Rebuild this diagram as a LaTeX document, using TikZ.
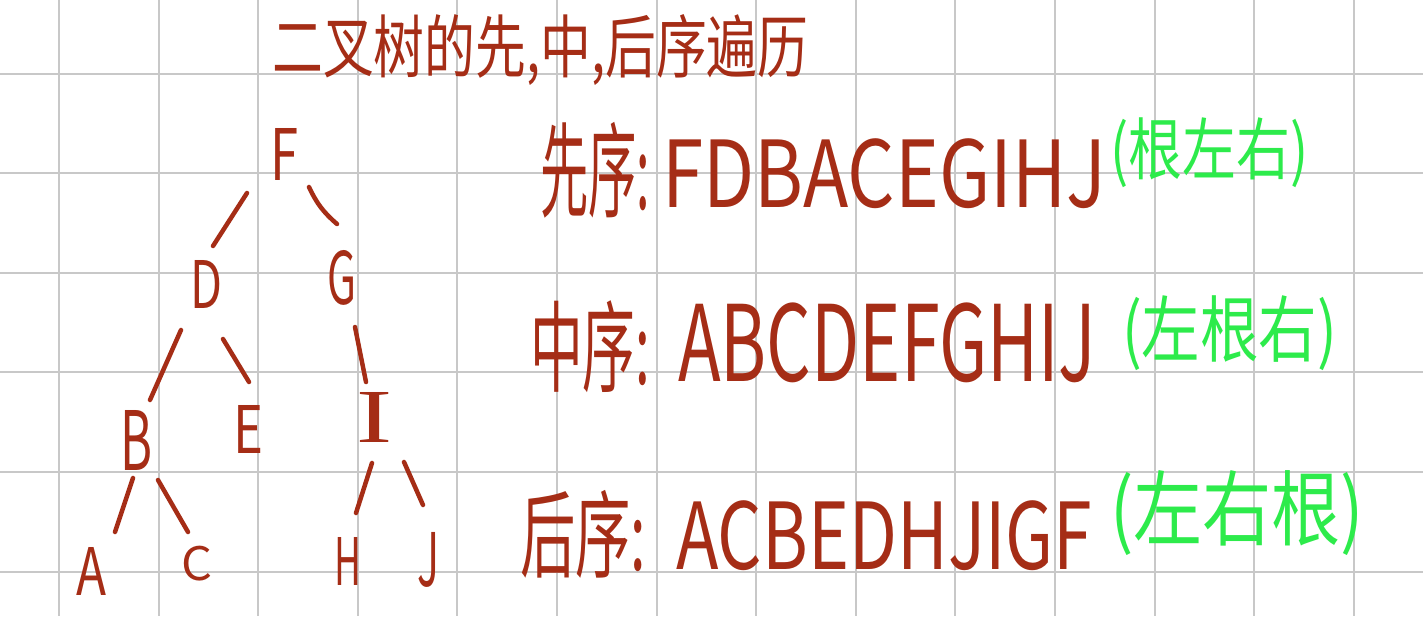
\documentclass[tikz,border=0pt]{standalone}
\usepackage{fontspec}
\usepackage{graphicx}
\usetikzlibrary{calc}
\newfontfamily\cjk{Noto Sans CJK SC}
\newfontfamily\serifletter{Liberation Serif}
\definecolor{ink}{RGB}{165,45,22}
\definecolor{inkgreen}{RGB}{45,235,75}
\definecolor{gridgray}{RGB}{200,200,200}
\newcommand{\fitbox}[3]{\resizebox*{#1pt}{#2pt}{\cjk #3}}
\tikzset{
  tl/.style={inner sep=0pt, text=ink},
  seg/.style={inner sep=0pt, anchor=north west},
  edgeline/.style={draw=ink, line width=4.5pt, line cap=round},
  gridline/.style={draw=gridgray, line width=2pt}
}
\begin{document}
\begin{tikzpicture}[x=1pt,y=-1pt]
\fill[white] (0,0) rectangle (1423,616);
\useasboundingbox (0,0) rectangle (1423,616);
% grid
\foreach \k in {0,...,13} {\draw[gridline] ({59+99.6*\k},0) -- ({59+99.6*\k},616);}
\foreach \k in {0,...,5} {\draw[gridline] (0,{73.5+99.6*\k}) -- (1423,{73.5+99.6*\k});}
% title
\node[seg, text=ink] (title) at (272,14) {\fitbox{536}{71}{二叉树的先,中,后序遍历}};
% tree nodes
\node[tl] (F) at (284,154) {\fitbox{28}{52}{F}};
\node[tl] (D) at (206,284) {\fitbox{32}{48}{D}};
\node[tl] (G) at (342,278) {\fitbox{29}{55}{G}};
\node[tl] (B) at (137,440) {\fitbox{32}{60}{B}};
\node[tl] (E) at (248,429) {\fitbox{30}{48}{E}};
\node[tl] (I) at (375,417) {\resizebox*{36pt}{50pt}{\serifletter I}};
\node[tl] (A) at (92,571) {\fitbox{30}{48}{A}};
\node[tl] (C) at (197,564) {\fitbox{31}{35}{C}};
\node[tl] (H) at (348,561) {\fitbox{27}{48}{H}};
\node[tl] (J) at (428,560) {\fitbox{22}{55}{J}};
% tree edges
\draw[edgeline] ($(F)+(-37,39)$) -- ($(D)+(7,-38)$);
\draw[edgeline] ($(F)+(25,33)$) to[bend right=12] ($(G)+(-5,-54)$);
\draw[edgeline] ($(D)+(-25,46)$) -- ($(B)+(13,-40)$);
\draw[edgeline] ($(D)+(17,55)$) -- ($(E)+(1,-47)$);
\draw[edgeline] ($(G)+(13,49)$) -- ($(I)+(-9,-35)$);
\draw[edgeline] ($(B)+(-4,38)$) -- ($(A)+(23,-39)$);
\draw[edgeline] ($(B)+(21,40)$) -- ($(C)+(-9,-32)$);
\draw[edgeline] ($(I)+(-3,46)$) -- ($(H)+(8,-48)$);
\draw[edgeline] ($(I)+(29,45)$) -- ($(J)+(-5,-55)$);
% preorder
\node[seg, text=ink] (pre1) at (540,122) {\fitbox{110}{96}{先序:}};
\node[seg, text=ink] (pre2) at (662,138) {\fitbox{444}{70}{FDBACEGIHJ}};
\node[seg, text=inkgreen] (pre3) at (1110,118) {\fitbox{198}{70}{(根左右)}};
% inorder
\node[seg, text=ink] (in1) at (530,300) {\fitbox{120}{92}{中序:}};
\node[seg, text=ink] (in2) at (678,303) {\fitbox{418}{80}{ABCDEFGHIJ}};
\node[seg, text=inkgreen] (in3) at (1122,295) {\fitbox{215}{75}{(左根右)}};
% postorder
\node[seg, text=ink] (post1) at (520,490) {\fitbox{126}{88}{后序:}};
\node[seg, text=ink] (post2) at (676,500) {\fitbox{416}{70}{ACBEDHJIGF}};
\node[seg, text=inkgreen] (post3) at (1110,470) {\fitbox{254}{85}{(左右根)}};
\end{tikzpicture}
\end{document}
